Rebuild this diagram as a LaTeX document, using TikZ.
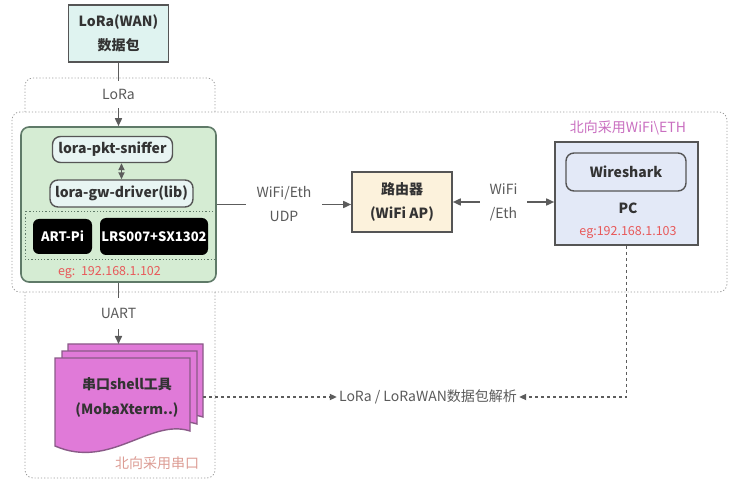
\documentclass[tikz,border=0pt]{standalone}
\usepackage{fontspec}
\setmainfont{Noto Sans CJK SC}
\usetikzlibrary{arrows.meta}

\definecolor{boxline}{HTML}{555555}
\definecolor{textdark}{HTML}{333333}
\definecolor{labelgray}{HTML}{5A5A5A}
\definecolor{framegray}{HTML}{9A9A9A}
\definecolor{arrowgray}{HTML}{5C5C5C}
\definecolor{topfill}{HTML}{DFF3F0}
\definecolor{greenfill}{HTML}{D5ECD3}
\definecolor{greenline}{HTML}{5F7A68}
\definecolor{pillfill}{HTML}{E8F5F3}
\definecolor{routerfill}{HTML}{FCF2DC}
\definecolor{pcfill}{HTML}{E3E9F7}
\definecolor{sheetfill}{HTML}{E07AD8}
\definecolor{sheetline}{HTML}{8A5A88}
\definecolor{ipred}{HTML}{E8595A}
\definecolor{wifipink}{HTML}{C96FC0}
\definecolor{uartpink}{HTML}{DC9C94}

\begin{document}
\begin{tikzpicture}[x=1pt,y=-1pt,
  frame/.style={draw=framegray, line width=0.8pt, dash pattern=on 1.2pt off 2pt, rounded corners=8pt},
  lbl/.style={text=labelgray, font=\fontsize{14}{24}\selectfont, align=center},
  box/.style={draw=boxline, line width=1.6pt, font=\bfseries\fontsize{14}{24}\selectfont, text=textdark, align=center, inner sep=0pt},
  pill/.style={box, rounded corners=8pt, fill=pillfill, line width=1.4pt},
  chip/.style={fill=black, rounded corners=6pt, text=white, font=\bfseries\fontsize{13}{16}\selectfont, inner sep=0pt},
  iptext/.style={text=ipred, font=\fontsize{12.5}{16}\selectfont},
  arr/.style={draw=arrowgray, line width=1.6pt, -{Triangle[length=8pt,width=7pt]}},
  dotarr/.style={draw=arrowgray, line width=1.6pt, dash pattern=on 3pt off 3pt, -{Triangle[length=7pt,width=6pt]}},
  sheet/.style={draw=sheetline, fill=sheetfill, line width=1.4pt}
]
\useasboundingbox (0,0) rectangle (731,494);

% dotted regions
\draw[frame] (25,112) -- (25,78) -- (215,78) -- (215,112);
\draw[frame] (12,112) rectangle (727,292);
\draw[frame] (25,292) -- (25,478) -- (215,478) -- (215,292);
\node[text=wifipink, font=\fontsize{14}{16}\selectfont] (wifinote) at (628,128) {北向采用WiFi\textbackslash ETH};
\node[text=uartpink, font=\fontsize{14}{16}\selectfont] (uartnote) at (157,463) {北向采用串口};

% packet source
\node[box, fill=topfill, minimum width=100pt, minimum height=57pt] (pkt) at (118.5,33.5) {LoRa(WAN)\\数据包};

% gateway
\node[box, fill=greenfill, draw=greenline, rounded corners=8pt, minimum width=195pt, minimum height=155pt] (gateway) at (118.5,204.5) {};
\node[pill, minimum width=120pt, minimum height=26pt] (sniffer) at (112.5,149.5) {lora-pkt-sniffer};
\node[pill, minimum width=143pt, minimum height=27pt] (driver) at (121.5,193.5) {lora-gw-driver(lib)};
\draw[draw=greenline, line width=0.8pt, dash pattern=on 1.2pt off 2pt] (25,211) rectangle (215,259);
\node[chip, minimum width=59pt, minimum height=35pt] (artpi) at (62.5,236.5) {ART-Pi};
\node[chip, minimum width=108pt, minimum height=37pt] (lrs) at (154,236.5) {LRS007+SX1302};
\node[iptext] (ip1) at (109.5,273) {eg:\ \ 192.168.1.102};

% router
\node[box, fill=routerfill, minimum width=100pt, minimum height=60pt] (router) at (402,202) {路由器\\(WiFi AP)};

% pc
\node[box, fill=pcfill, minimum width=143pt, minimum height=103pt] (pc) at (626.5,193.5) {};
\node[pill, fill=pcfill, minimum width=120pt, minimum height=38pt] (ws) at (626,172) {Wireshark};
\node[font=\bfseries\fontsize{14}{16}\selectfont, text=textdark] (pclbl) at (628,208) {PC};
\node[iptext] (ip2) at (628,233) {eg:192.168.1.103};

% serial tool
\draw[sheet] (68,344) -- (203,344) -- (203,417) .. controls (163,404) and (123,456) .. (68,432) -- cycle;
\draw[sheet] (62,351) -- (197,351) -- (197,424) .. controls (157,411) and (117,463) .. (62,439) -- cycle;
\draw[sheet] (55,358) -- (190,358) -- (190,431) .. controls (150,418) and (110,470) .. (55,446) -- cycle;
\node[lbl, text=textdark, font=\bfseries\fontsize{14}{25}\selectfont] (shell) at (127,397) {串口shell工具\\(MobaXterm..)};
\coordinate (shellT) at (118.5,344);
\coordinate (shellR) at (203,397);

\node[lbl, inner sep=2pt] (parse) at (428,397) {LoRa / LoRaWAN数据包解析};

% connectors
\draw[arr] (pkt.south) -- node[lbl, fill=white, inner ysep=8pt]{LoRa} (gateway.north);
\draw[draw=arrowgray, line width=1.6pt, {Triangle[length=7pt,width=6pt]}-{Triangle[length=7pt,width=6pt]}] (driver.north) -- (driver.north |- sniffer.south);
\draw[arr] (gateway.east) -- node[lbl, fill=white, inner xsep=11pt]{WiFi/Eth\\UDP} (gateway.east -| router.west);
\draw[arr, {Triangle[length=8pt,width=7pt]}-{Triangle[length=8pt,width=7pt]}] (router.east) -- node[lbl, fill=white, inner xsep=10pt]{WiFi\\/Eth} (router.east -| pc.west);
\draw[arr] (gateway.south) -- node[lbl, fill=white, inner ysep=10pt]{UART} (shellT);
\draw[dotarr] (shellR) -- (parse.west);
\draw[dotarr] (pc.south) |- (parse.east);
\end{tikzpicture}
\end{document}
